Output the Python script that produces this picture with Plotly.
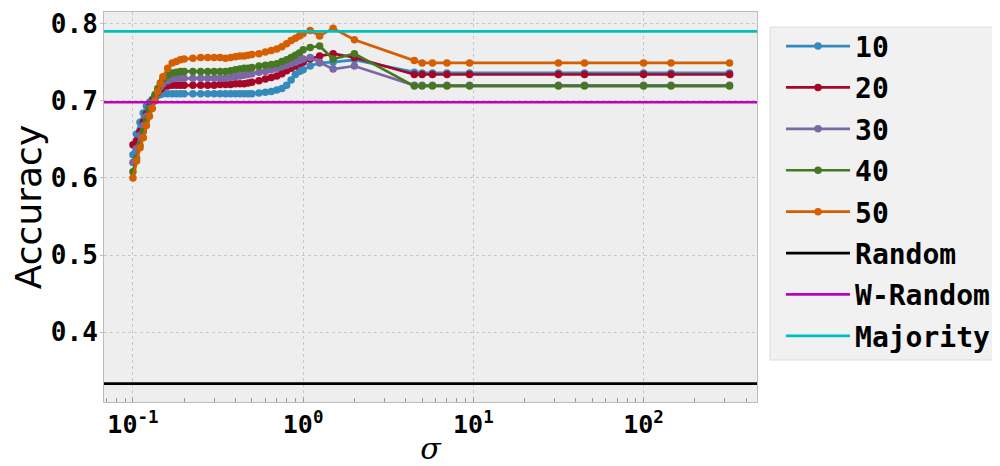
import plotly.graph_objects as go

sigma = [0.100, 0.105, 0.110, 0.115, 0.120, 0.125, 0.130, 0.135, 0.140, 0.145,
         0.150, 0.160, 0.170, 0.180, 0.190, 0.200, 0.225, 0.250, 0.275, 0.300,
         0.325, 0.350, 0.375, 0.400, 0.425, 0.450, 0.475, 0.500, 0.550, 0.600,
         0.650, 0.700, 0.750, 0.800, 0.850, 0.900, 0.950, 1.000, 1.100, 1.250,
         1.500, 2.000, 4.500, 5.000, 5.750, 7.000, 9.500, 31.6, 45.0, 100.0,
         145.0, 320.0]

acc_10 = [0.630, 0.657, 0.672, 0.684, 0.693, 0.698, 0.702, 0.705, 0.707, 0.708,
          0.709, 0.709, 0.709, 0.709, 0.709, 0.709, 0.709, 0.709, 0.709, 0.709,
          0.709, 0.709, 0.709, 0.709, 0.709, 0.709, 0.709, 0.709, 0.710, 0.711,
          0.712, 0.714, 0.716, 0.720, 0.727, 0.734, 0.738, 0.740, 0.745, 0.749,
          0.750, 0.753, 0.737, 0.736, 0.736, 0.736, 0.736, 0.736, 0.736, 0.736,
          0.736, 0.736]

acc_20 = [0.643, 0.648, 0.660, 0.672, 0.683, 0.692, 0.700, 0.706, 0.711, 0.715,
          0.717, 0.719, 0.720, 0.720, 0.720, 0.720, 0.720, 0.720, 0.720, 0.720,
          0.721, 0.721, 0.721, 0.722, 0.722, 0.722, 0.723, 0.724, 0.726, 0.728,
          0.730, 0.732, 0.735, 0.739, 0.742, 0.745, 0.748, 0.750, 0.754, 0.758,
          0.761, 0.756, 0.734, 0.734, 0.734, 0.734, 0.734, 0.734, 0.734, 0.734,
          0.734, 0.734]

acc_30 = [0.620, 0.638, 0.655, 0.668, 0.680, 0.690, 0.698, 0.706, 0.713, 0.718,
          0.722, 0.726, 0.728, 0.729, 0.729, 0.729, 0.729, 0.729, 0.729, 0.729,
          0.729, 0.729, 0.730, 0.731, 0.732, 0.733, 0.734, 0.735, 0.737, 0.738,
          0.740, 0.742, 0.744, 0.746, 0.748, 0.750, 0.752, 0.754, 0.756, 0.750,
          0.741, 0.745, 0.720, 0.720, 0.720, 0.720, 0.720, 0.720, 0.720, 0.720,
          0.720, 0.720]

acc_40 = [0.608, 0.625, 0.642, 0.660, 0.675, 0.688, 0.698, 0.708, 0.716, 0.723,
          0.728, 0.733, 0.736, 0.737, 0.738, 0.738, 0.738, 0.738, 0.738, 0.738,
          0.738, 0.738, 0.739, 0.740, 0.741, 0.742, 0.742, 0.743, 0.745, 0.746,
          0.747, 0.748, 0.751, 0.753, 0.756, 0.759, 0.762, 0.766, 0.769, 0.771,
          0.754, 0.761, 0.719, 0.719, 0.719, 0.719, 0.719, 0.719, 0.719, 0.719,
          0.719, 0.719]

acc_50 = [0.600, 0.622, 0.639, 0.652, 0.668, 0.680, 0.690, 0.700, 0.712, 0.722,
          0.731, 0.742, 0.749, 0.751, 0.753, 0.754, 0.755, 0.756, 0.756, 0.756,
          0.756, 0.755, 0.756, 0.757, 0.758, 0.758, 0.759, 0.760, 0.761, 0.763,
          0.765, 0.767, 0.770, 0.774, 0.778, 0.781, 0.784, 0.787, 0.791, 0.784,
          0.794, 0.779, 0.752, 0.749, 0.749, 0.749, 0.749, 0.749, 0.749, 0.749,
          0.749, 0.749]

series_names = ["10", "20", "30", "40", "50"]
series_values = [acc_10, acc_20, acc_30, acc_40, acc_50]
series_colors = ["#348ABD", "#A60628", "#7A68A6", "#467821", "#D55E00"]

baseline_names = ["Random", "W-Random", "Majority"]
baseline_values = [1 / 3, 0.698, 0.790]
baseline_colors = ["#000000", "#BF00BF", "#00BFBF"]

x_range = [0.0676, 464.0]
y_range = [0.3095, 0.815]

x_tickvals = [0.1, 1, 10, 100]
x_ticktext = ["10<sup>-1</sup>", "10<sup>0</sup>", "10<sup>1</sup>", "10<sup>2</sup>"]
y_tickvals = [0.4, 0.5, 0.6, 0.7, 0.8]
y_ticktext = ["0.4", "0.5", "0.6", "0.7", "0.8"]

MONO = "DejaVu Sans Mono"

fig = go.Figure()
for i, (name, vals, col) in enumerate(zip(series_names, series_values, series_colors)):
    fig.add_trace(go.Scatter(
        x=sigma, y=vals, name=name, mode="lines+markers",
        line=dict(color=col, width=2.7),
        marker=dict(color=col, size=7.5),
        legendgroup="g%d" % i,
    ))
for j, (name, val, col) in enumerate(zip(baseline_names, baseline_values, baseline_colors)):
    fig.add_trace(go.Scatter(
        x=x_range, y=[val, val], name=name, mode="lines",
        line=dict(color=col, width=2.7),
        legendgroup="b%d" % j,
    ))

# legend frame
fig.add_shape(type="rect", xref="paper", yref="paper",
              x0=1.0199, x1=1.372, y0=0.1077, y1=0.9615,
              fillcolor="#F1F1F1", line=dict(color="#DDDDDD", width=1),
              layer="below")

fig.update_layout(
    width=992, height=458,
    paper_bgcolor="white", plot_bgcolor="#EEEEEE",
    margin=dict(l=96, r=243, t=4, b=64, autoexpand=False),
    showlegend=True,
    legend=dict(
        x=1.0368, y=0.976, xanchor="left", yanchor="top",
        bgcolor="rgba(0,0,0,0)", borderwidth=0,
        font=dict(family=MONO, size=28, color="#000000", weight="bold"),
        tracegroupgap=2, itemwidth=64,
    ),
    font=dict(family=MONO, color="#000000"),
)
fig.update_xaxes(
    type="log", range=[-1.17, 2.6665], automargin=False,
    tickvals=x_tickvals, ticktext=x_ticktext,
    tickfont=dict(family=MONO, size=25, weight="bold", color="#000000"),
    showgrid=True, gridcolor="#C8C8C8", griddash="dot", gridwidth=1,
    showline=True, linecolor="#BCBCBC", linewidth=1, mirror=True,
    ticks="", ticklen=0,
    minor=dict(ticks="inside", ticklen=4, dtick="D1", tickcolor="#999999", showgrid=False),
    zeroline=False,
    title=dict(text="σ", font=dict(family="DejaVu Serif", size=30, style="italic", color="#000000"), standoff=4),
)
fig.update_yaxes(
    range=y_range, automargin=False,
    tickvals=y_tickvals, ticktext=y_ticktext,
    tickfont=dict(family=MONO, size=26, weight="bold", color="#000000"),
    showgrid=True, gridcolor="#C8C8C8", griddash="dot", gridwidth=1,
    showline=True, linecolor="#BCBCBC", linewidth=1, mirror=True,
    ticks="outside", ticklen=3, tickcolor="#BCBCBC",
    ticklabelstandoff=-3,
    zeroline=False,
    title=dict(text="Accuracy", font=dict(family="DejaVu Sans", size=36, color="#000000"), standoff=4),
)

fig.write_html("out.html")
